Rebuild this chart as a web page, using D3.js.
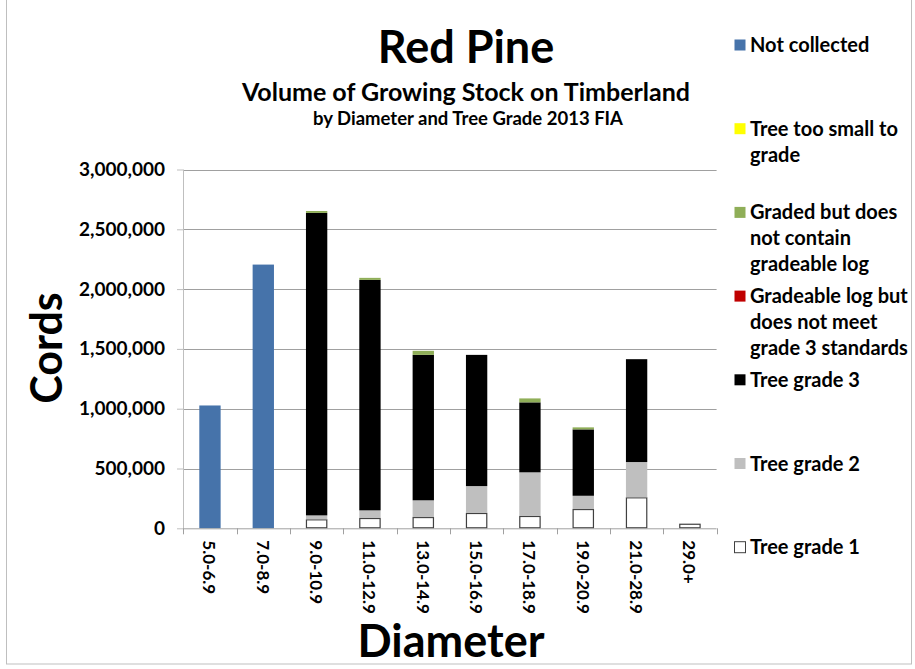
<!DOCTYPE html>
<html><head><meta charset="utf-8">
<script src="https://cdn.jsdelivr.net/npm/d3@7"></script>
<style>
html,body{margin:0;padding:0;background:#fff;}
svg{display:block;font-family:Lato,"Open Sans",sans-serif;font-weight:bold;}
</style></head>
<body>
<svg id="chart" width="915" height="669"></svg>
<script>
const categories = ["5.0-6.9","7.0-8.9","9.0-10.9","11.0-12.9","13.0-14.9","15.0-16.9","17.0-18.9","19.0-20.9","21.0-28.9","29.0+"];
const treeGrade1 =        [0, 0, 75000, 86000, 94000, 128000, 103000, 161000, 259000, 38000];
const treeGrade2 =        [0, 0, 33000, 64000, 140000, 225000, 365000, 111000, 295000, 0];
const treeGrade3 =        [0, 0, 2529000, 1927000, 1216000, 1097000, 585000, 555000, 860000, 0];
const gradeableNotMeet =  [0, 0, 0, 0, 0, 0, 0, 0, 0, 0];
const gradedNoLog =       [0, 0, 16000, 17000, 34000, 0, 33000, 17000, 0, 0];
const tooSmall =          [0, 0, 0, 0, 0, 0, 0, 0, 0, 0];
const notCollected =      [1027000, 2205000, 0, 0, 0, 0, 0, 0, 0, 0];
const yTicks = [0, 500000, 1000000, 1500000, 2000000, 2500000, 3000000];

const seriesNames = ["Tree grade 1","Tree grade 2","Tree grade 3","Gradeable log but does not meet grade 3 standards","Graded but does not contain gradeable log","Tree too small to grade","Not collected"];
const seriesValues = [treeGrade1, treeGrade2, treeGrade3, gradeableNotMeet, gradedNoLog, tooSmall, notCollected];
const seriesColors = ["#ffffff","#bfbfbf","#000000","#c00000","#8fae58","#ffff00","#4673aa"];
const seriesStroke = ["#404040", null, null, null, null, null, null];
const legendLines = [
  ["Not collected"],
  ["Tree too small to","grade"],
  ["Graded but does","not contain","gradeable log"],
  ["Gradeable log but","does not meet","grade 3 standards"],
  ["Tree grade 3"],
  ["Tree grade 2"],
  ["Tree grade 1"]
];

const svg = d3.select("#chart");
// outer border
svg.append("rect").attr("x",6.5).attr("y",-1).attr("width",905).attr("height",665)
  .attr("fill","none").attr("stroke","#bfbfbf");

const x = d3.scaleBand().domain(categories).range([183.3, 716.6]).padding(0);
const y = d3.scaleLinear().domain([0, 3000000]).range([528.3, 169.5]);

// gridlines
svg.append("g").selectAll("line").data(yTicks.slice(1)).join("line")
  .attr("x1",183).attr("x2",716.6).attr("y1",d=>Math.round(y(d))+0.5).attr("y2",d=>Math.round(y(d))+0.5)
  .attr("stroke","#a0a0a0").attr("stroke-width",1);

// stacked data
const rows = categories.map((c,i)=>{const r={cat:c}; seriesNames.forEach((s,j)=>r[s]=seriesValues[j][i]); return r;});
const stack = d3.stack().keys(seriesNames)(rows);
const bw = x.bandwidth()*0.4;
stack.forEach((layer,j)=>{
  svg.append("g").selectAll("rect").data(layer.filter(d=>d[1]-d[0]>0)).join("rect")
    .attr("x",d=>x(d.data.cat)+x.bandwidth()/2-bw/2 + (seriesStroke[j]?0.5:0))
    .attr("width",bw-(seriesStroke[j]?1:0))
    .attr("y",d=>y(d[1]) + (seriesStroke[j]?0.5:0))
    .attr("height",d=>y(d[0])-y(d[1]) - (seriesStroke[j]?1:0))
    .attr("fill",seriesColors[j])
    .attr("stroke",seriesStroke[j]||"none").attr("stroke-width",1.2);
});

// y axis
const yAxis = d3.axisLeft(y).tickValues(yTicks).tickSize(6).tickPadding(12).tickFormat(d3.format(","));
const gy = svg.append("g").attr("transform","translate(183,0)").call(yAxis);
gy.select(".domain").attr("stroke","#bfbfbf").attr("d","M0.5,"+y(3000000)+"V"+y(0));
gy.selectAll(".tick line").attr("stroke","#bfbfbf");
gy.selectAll("text").attr("font-size",19).attr("font-family","Lato").attr("font-weight","bold").attr("fill","#000");

// x axis
const gx = svg.append("g").attr("transform","translate(0,"+528.3+")");
gx.append("line").attr("x1",183).attr("x2",716.6).attr("y1",0.5).attr("y2",0.5).attr("stroke","#a0a0a0");
const bounds = categories.map(c=>x(c)).concat([x.range()[1]]);
gx.selectAll("line.tk").data(bounds).join("line").attr("class","tk")
  .attr("x1",d=>Math.round(d)+0.5).attr("x2",d=>Math.round(d)+0.5).attr("y1",0).attr("y2",6).attr("stroke","#a0a0a0");
gx.selectAll("text").data(categories).join("text")
  .attr("transform",d=>"translate("+(x(d)+x.bandwidth()/2)+",12) rotate(90)")
  .attr("text-anchor","start").attr("dominant-baseline","central")
  .attr("font-size",17).text(d=>d);

// titles
svg.append("text").attr("x",466).attr("y",63).attr("text-anchor","middle").attr("font-size",45).text("Red Pine");
svg.append("text").attr("x",466).attr("y",101).attr("text-anchor","middle").attr("font-size",25).text("Volume of Growing Stock on Timberland");
svg.append("text").attr("x",468).attr("y",125).attr("text-anchor","middle").attr("font-size",18.5).text("by Diameter and Tree Grade 2013 FIA");
svg.append("text").attr("x",451).attr("y",657).attr("text-anchor","middle").attr("font-size",45).text("Diameter");
svg.append("text").attr("transform","translate(62,348) rotate(-90)").attr("text-anchor","middle").attr("font-size",43).text("Cords");

// legend
const legendColors = seriesColors.slice().reverse();
const legendStroke = seriesStroke.slice().reverse();
const lg = svg.append("g");
legendLines.forEach((lines,i)=>{
  const by = 52 + i*83.7;
  lg.append("rect").attr("x",734.5).attr("y",by-12.5).attr("width",11).attr("height",11)
    .attr("fill",legendColors[i]).attr("stroke",legendStroke[i]||"none");
  lines.forEach((t,k)=>{
    lg.append("text").attr("x",750).attr("y",by+k*26).attr("font-size",20).text(t);
  });
});
</script>
</body></html>
